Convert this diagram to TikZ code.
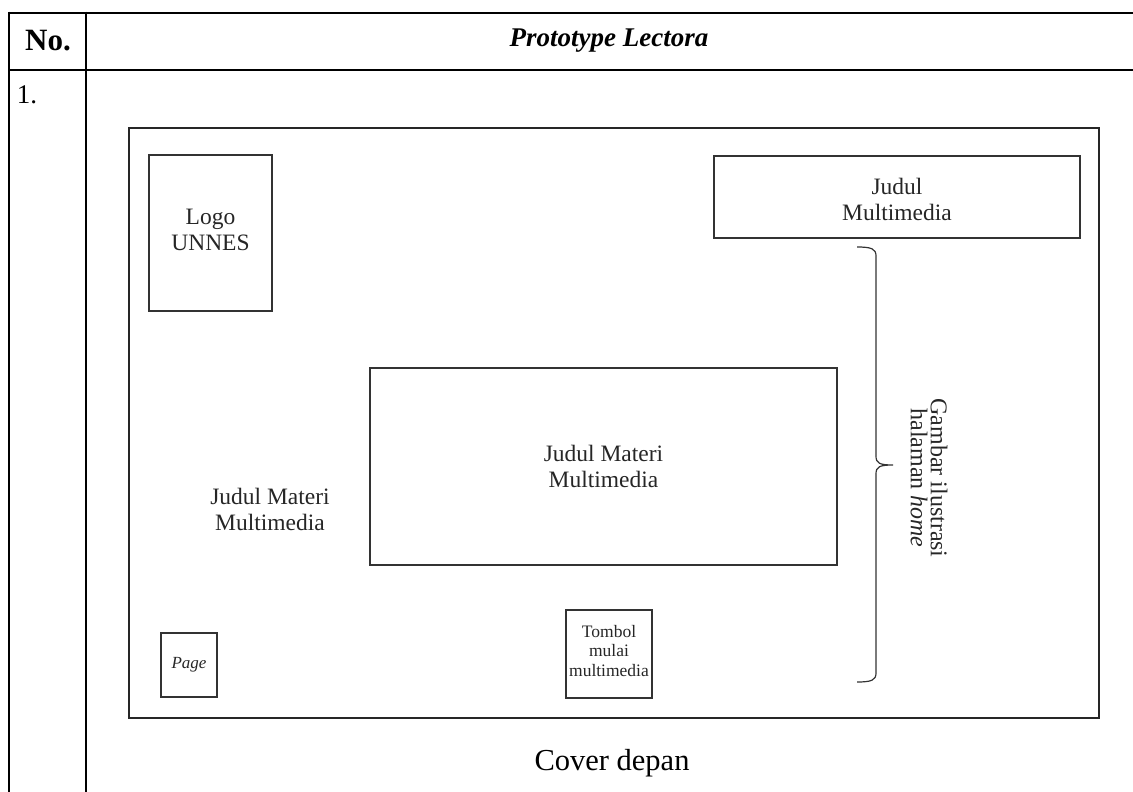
\documentclass[tikz,border=0pt]{standalone}
\usepackage{fontspec}
\setmainfont{Liberation Serif}
\begin{document}
\begin{tikzpicture}[x=1pt,y=-1pt,
  tableline/.style={line width=2.6pt,black},
  frameline/.style={line width=1.8pt,black!85},
  box/.style={draw=black!80,line width=1.2pt,inner sep=0pt,align=center},
  txt/.style={inner sep=0pt,align=center,text=black!85},
  bigtxt/.style={font=\fontsize{23.5}{26}\selectfont},
  smalltxt/.style={font=\fontsize{17.5}{19.5}\selectfont}]
\useasboundingbox (0,0) rectangle (1133,792);
% table
\draw[tableline] (9,13) -- (1133,13);
\draw[tableline] (9,70) -- (1133,70);
\draw[tableline] (9,11.7) -- (9,792);
\draw[tableline] (86,11.7) -- (86,792);
\node[inner sep=0pt,font=\fontsize{31}{34}\selectfont\bfseries] (no) at (48,41) {No.};
\node[inner sep=0pt,font=\fontsize{27}{32}\selectfont\bfseries\itshape] (head) at (609,41) {Prototype Lectora};
\node[inner sep=0pt,font=\fontsize{27}{32}\selectfont] (one) at (27,95) {1.};
% frame
\draw[frameline] (129,128) rectangle (1099,718);
% boxes
\node[box,minimum width=123pt,minimum height=156pt] (logo) at (210.5,233) {};
\node[txt,bigtxt] (logotxt) at (210.5,230) {Logo\\UNNES};
\node[box,minimum width=366pt,minimum height=82pt] (judul) at (897,197) {};
\node[txt,bigtxt] (judultxt) at (897,199) {Judul\\Multimedia};
\node[box,bigtxt,text=black!85,minimum width=467pt,minimum height=197pt] (materi) at (603.5,466.5) {Judul Materi\\Multimedia};
\node[txt,bigtxt] (lefttxt) at (270,509) {Judul Materi\\Multimedia};
\node[box,minimum width=56pt,minimum height=64pt] (page) at (189,665) {};
\node[txt,font=\fontsize{17}{20}\selectfont\itshape] (pagetxt) at (189,665) {Page};
\node[box,minimum width=86pt,minimum height=88pt] (tombol) at (609,654) {};
\node[txt,smalltxt] (tomboltxt) at (609,651) {Tombol\\mulai\\multimedia};
% brace
\draw[black!80,line width=1.2pt] (857,247) .. controls (872,247) and (876,249) .. (876,256) -- (876,456)
  .. controls (876,463) and (879,465) .. (893,465)
  .. controls (879,465) and (876,467) .. (876,474) -- (876,673)
  .. controls (876,680) and (872,682) .. (857,682);
\node[txt,rotate=-90,font=\fontsize{24}{20}\selectfont] (gambar) at (929,478) {Gambar ilustrasi\\halaman \textit{home}};
% caption
\node[inner sep=0pt,font=\fontsize{30.5}{34}\selectfont] (cover) at (612,763) {Cover depan};
\end{tikzpicture}
\end{document}
